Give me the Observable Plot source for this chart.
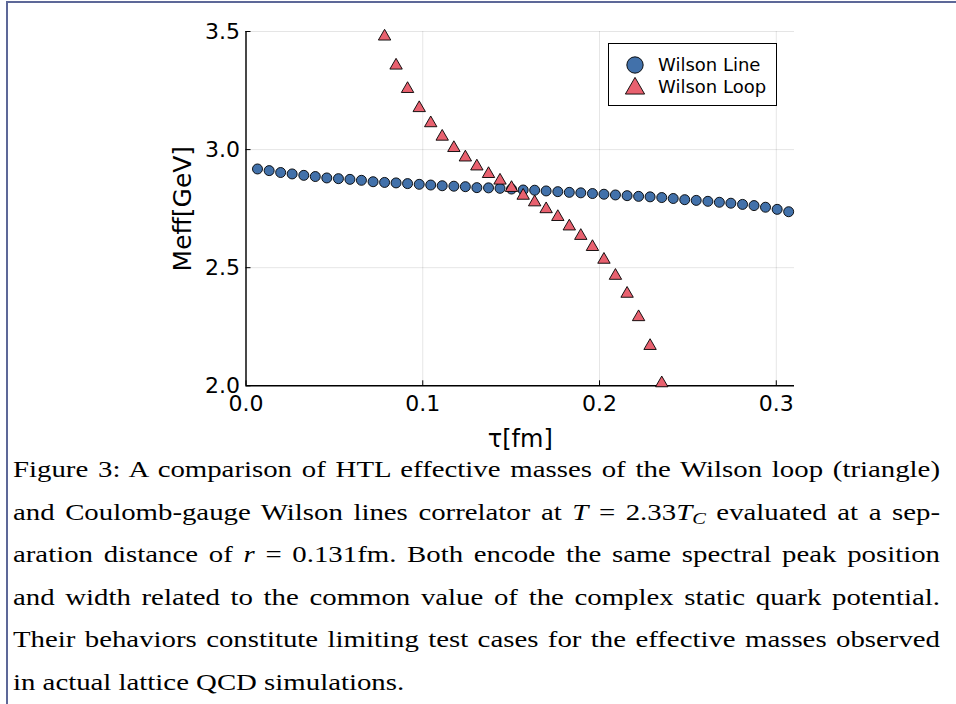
<!DOCTYPE html>
<html>
<head>
<meta charset="utf-8">
<script src="https://cdn.jsdelivr.net/npm/d3@7"></script>
<script src="https://cdn.jsdelivr.net/npm/@observablehq/plot@0.6"></script>
<style>
html, body { margin: 0; padding: 0; background: #fff; }
#page { position: relative; width: 956px; height: 704px; overflow: hidden; background: #fff; }
#frame { position: absolute; left: 6px; top: 1px; width: 980px; height: 740px; border-left: 2px solid #5d6898; border-top: 2px solid #5d6898; }
#chart { position: absolute; left: 0; top: 0; }
#legend { position: absolute; left: 608px; top: 43px; width: 167px; height: 61px; border: 1px solid #000; background: #fff; font-family: "DejaVu Sans"; font-size: 18px; color: #000; }
#legend .row { position: absolute; left: 0; height: 22px; line-height: 22px; white-space: nowrap; }
#legend svg { position: absolute; left: 15px; top: 0; }
#legend span { position: absolute; left: 49px; top: 0; }
#caption { position: absolute; left: 13px; top: 448px; width: 772.5px; font-family: "Liberation Serif", serif; font-size: 24px; line-height: 42.6px; color: #000; transform: scaleX(1.2); transform-origin: 0 0; }
#caption .l { text-align: justify; text-align-last: justify; height: 42.6px; white-space: normal; }
#caption .last { text-align: left; text-align-last: left; }
</style>
</head>
<body>
<div id="page">
  <div id="frame"></div>
  <div id="chart"></div>
  <div id="legend"></div>
  <div id="caption">
    <div class="l">Figure 3: A comparison of HTL effective masses of the Wilson loop (triangle)</div>
    <div class="l">and Coulomb-gauge Wilson lines correlator at <i>T</i> = 2.33<i>T</i><sub style="font-size:17px;vertical-align:-4px;line-height:0"><i>C</i></sub> evaluated at a sep-</div>
    <div class="l">aration distance of <i>r</i> = 0.131fm. Both encode the same spectral peak position</div>
    <div class="l">and width related to the common value of the complex static quark potential.</div>
    <div class="l">Their behaviors constitute limiting test cases for the effective masses observed</div>
    <div class="l last">in actual lattice QCD simulations.</div>
  </div>
</div>
<script>
// tau grid (fm) for the Wilson line correlator
const tauLine = [0.0065, 0.0131, 0.0196, 0.0261, 0.0327, 0.0392, 0.0457, 0.0523, 0.0588, 0.0653,
  0.0719, 0.0784, 0.0849, 0.0914, 0.0980, 0.1045, 0.1110, 0.1176, 0.1241, 0.1306,
  0.1372, 0.1437, 0.1502, 0.1568, 0.1633, 0.1698, 0.1764, 0.1829, 0.1894, 0.1960,
  0.2025, 0.2090, 0.2156, 0.2221, 0.2286, 0.2352, 0.2417, 0.2482, 0.2547, 0.2613,
  0.2678, 0.2743, 0.2809, 0.2874, 0.2939, 0.3005, 0.3070];
const meffLine = [2.918, 2.911, 2.903, 2.897, 2.891, 2.886, 2.880, 2.877, 2.874, 2.870,
  2.864, 2.861, 2.859, 2.856, 2.853, 2.850, 2.847, 2.845, 2.843, 2.839,
  2.838, 2.836, 2.833, 2.829, 2.828, 2.825, 2.822, 2.819, 2.817, 2.814,
  2.811, 2.808, 2.805, 2.802, 2.800, 2.797, 2.793, 2.788, 2.785, 2.781,
  2.777, 2.773, 2.768, 2.763, 2.756, 2.747, 2.737];
// tau grid (fm) for the Wilson loop
const tauLoop = [0.0784, 0.0849, 0.0914, 0.0980, 0.1045, 0.1110, 0.1176, 0.1241, 0.1306,
  0.1372, 0.1437, 0.1502, 0.1568, 0.1633, 0.1698, 0.1764, 0.1829, 0.1894, 0.1960,
  0.2025, 0.2090, 0.2156, 0.2221, 0.2286, 0.2352];
const meffLoop = [3.479, 3.356, 3.257, 3.176, 3.112, 3.055, 3.007, 2.967, 2.929,
  2.897, 2.869, 2.838, 2.805, 2.777, 2.748, 2.715, 2.675, 2.635, 2.588,
  2.534, 2.466, 2.390, 2.291, 2.169, 2.011];
const xTicks = [0.0, 0.1, 0.2, 0.3];
const yTicks = [2.0, 2.5, 3.0, 3.5];
const seriesNames = ["Wilson Line", "Wilson Loop"];
const colLine = "#4271aa";
const colLoop = "#e8616f";

const lineData = tauLine.map((t, i) => ({tau: t, meff: meffLine[i]}));
const loopData = tauLoop.map((t, i) => ({tau: t, meff: meffLoop[i]}));

const chart = Plot.plot({
  width: 956,
  height: 450,
  marginLeft: 245.5,
  marginRight: 162,
  marginTop: 31,
  marginBottom: 64.7,
  style: {fontFamily: "DejaVu Sans", color: "#000", background: "transparent", overflow: "visible"},
  x: {domain: [0, 0.3103]},
  y: {domain: [2, 3.5]},
  marks: [
    Plot.gridX(xTicks, {stroke: "#000", strokeOpacity: 0.1, strokeWidth: 1}),
    Plot.gridY(yTicks, {stroke: "#000", strokeOpacity: 0.1, strokeWidth: 1}),
    Plot.axisX(xTicks, {tickSize: -5, tickPadding: 15, tickFormat: d3.format(".1f"), fontSize: 22, label: null}),
    Plot.axisY(yTicks, {tickSize: -5, tickPadding: 11, tickFormat: d3.format(".1f"), fontSize: 22, label: null}),
    Plot.axisX([], {label: "τ[fm]", labelAnchor: "center", labelOffset: 61, fontSize: 24, labelArrow: "none", tickSize: 0}),
    Plot.axisY([], {label: "Meff[GeV]", labelAnchor: "center", labelOffset: 73, fontSize: 25, labelArrow: "none", tickSize: 0}),
    Plot.ruleX([0], {stroke: "#000", strokeWidth: 1.4}),
    Plot.ruleY([2], {stroke: "#000", strokeWidth: 1.4}),
    Plot.dot(lineData, {x: "tau", y: "meff", r: 5, symbol: "circle", fill: colLine, stroke: "#000", strokeWidth: 0.9}),
    Plot.dot(loopData, {x: "tau", y: "meff", r: 4.6, symbol: "triangle", fill: colLoop, stroke: "#000", strokeWidth: 0.9})
  ]
});
document.getElementById("chart").appendChild(chart);

// legend
const legend = document.getElementById("legend");
const symbols = [d3.symbolCircle, d3.symbolTriangle];
const colors = [colLine, colLoop];
const tops = [10, 32];
seriesNames.forEach((name, i) => {
  const row = document.createElement("div");
  row.className = "row";
  row.style.top = tops[i] + "px";
  row.style.width = "160px";
  const path = d3.symbol(symbols[i], i === 0 ? 210 : 160)();
  row.innerHTML = `<svg width="22" height="22" viewBox="-11 -11 22 22" style="overflow:visible"><path d="${path}" fill="${colors[i]}" stroke="#000" stroke-width="0.9" transform="translate(0,${i === 0 ? 0 : 1.5})"/></svg><span>${name}</span>`;
  legend.appendChild(row);
});
</script>
</body>
</html>
